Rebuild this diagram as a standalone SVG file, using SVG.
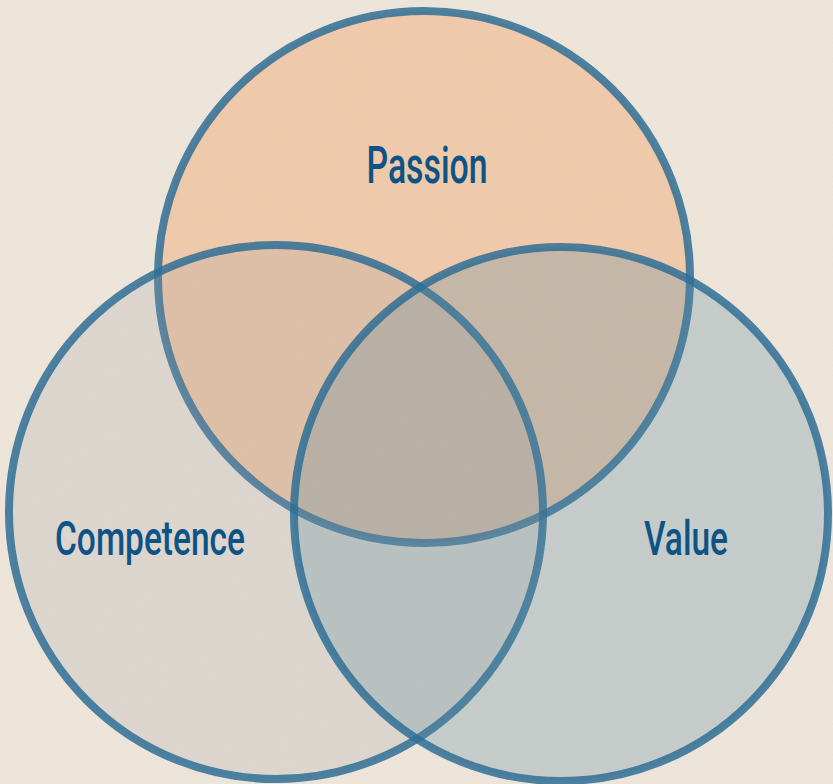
<svg xmlns="http://www.w3.org/2000/svg" width="833" height="784" viewBox="0 0 833 784">
<defs>
<filter id="grain" x="0" y="0" width="100%" height="100%">
<feTurbulence type="fractalNoise" baseFrequency="0.9" numOctaves="2" seed="3" result="n"/>
<feColorMatrix in="n" type="matrix" values="0 0 0 0 0.55  0 0 0 0 0.5  0 0 0 0 0.45  0 0 0 0.12 0"/>
</filter>
<style>
.ring{stroke:#2f6f95;stroke-opacity:0.85;stroke-width:8}
.lbl{font-family:Roboto,"Liberation Sans",sans-serif;font-weight:500;fill:#0d5385;text-anchor:middle}
</style>
</defs>
<rect width="833" height="784" fill="#f0e7dc"/>
<rect width="833" height="784" filter="url(#grain)"/>
<g id="passion">
<circle class="ring" cx="424" cy="277" r="266" fill="#f0a064" fill-opacity="0.4"/>
<text class="lbl" x="427" y="183" font-size="52" textLength="121" lengthAdjust="spacingAndGlyphs">Passion</text>
</g>
<g id="competence">
<circle class="ring" cx="276" cy="512" r="267" fill="#9a9aa0" fill-opacity="0.2"/>
<text class="lbl" x="150" y="555" font-size="49" textLength="190" lengthAdjust="spacingAndGlyphs">Competence</text>
</g>
<g id="value">
<circle class="ring" cx="561" cy="514" r="267" fill="#5a8aa0" fill-opacity="0.27"/>
<text class="lbl" x="686" y="555" font-size="49" textLength="84" lengthAdjust="spacingAndGlyphs">Value</text>
</g>
<g id="connectors"/>
</svg>
